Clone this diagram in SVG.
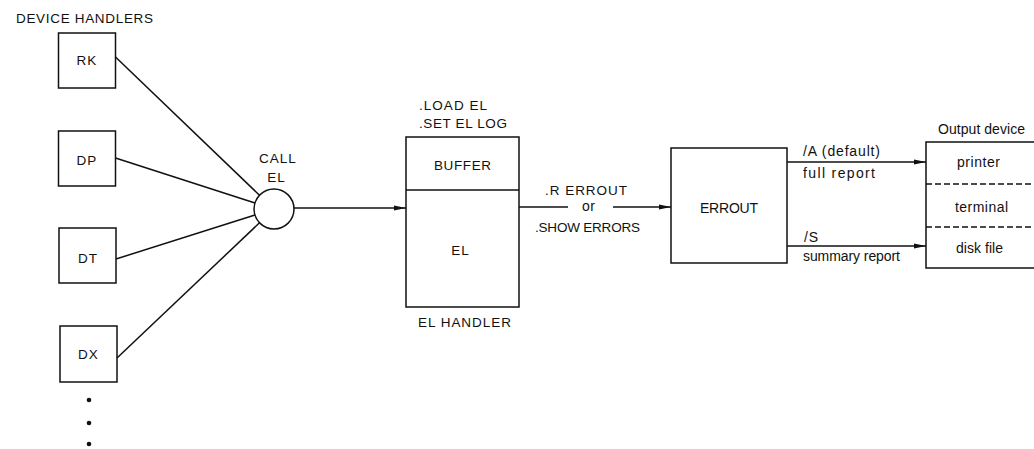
<svg xmlns="http://www.w3.org/2000/svg" width="1034" height="449" viewBox="0 0 1034 449">
<defs>
<style>
.box{fill:#fff;stroke:#111;stroke-width:1.5}
.ln{fill:none;stroke:#111;stroke-width:1.5}
.dash{fill:none;stroke:#111;stroke-width:1.5;stroke-dasharray:6,3}
text{font-family:"Liberation Sans",Arial,sans-serif;fill:#111;font-size:13.5px}
.lc{font-size:14px}
.mid{text-anchor:middle;letter-spacing:1px}
</style>
<marker id="ah" viewBox="0 0 12 6" refX="12" refY="3" markerWidth="12" markerHeight="6" markerUnits="userSpaceOnUse" orient="auto">
<path d="M0,0.6 L12,3 L0,5.4 Z" fill="#111"/>
</marker>
</defs>
<rect width="1034" height="449" fill="#fff"/>
<text x="16" y="23" textLength="137" lengthAdjust="spacing">DEVICE HANDLERS</text>
<g id="RK"><rect class="box" x="58.5" y="33" width="57" height="55"/><text class="mid" x="87" y="65">RK</text></g>
<g id="DP"><rect class="box" x="58.5" y="131" width="57" height="55"/><text class="mid" x="87" y="165">DP</text></g>
<g id="DT"><rect class="box" x="59" y="228" width="57" height="55"/><text class="mid" x="88" y="263">DT</text></g>
<g id="DX"><rect class="box" x="60" y="326" width="57" height="56"/><text class="mid" x="88.5" y="359">DX</text></g>
<g id="dots"><circle cx="89" cy="400" r="2.3" fill="#111"/><circle cx="89" cy="423" r="2.3" fill="#111"/><circle cx="89" cy="444" r="2.3" fill="#111"/></g>
<g id="callEL"><circle class="box" cx="274" cy="209" r="20"/><text class="mid" x="278" y="163">CALL</text><text class="mid" x="276.5" y="182">EL</text></g>
<g id="elhandler">
<text x="419" y="110" textLength="68" lengthAdjust="spacing">.LOAD EL</text>
<text x="419" y="128" textLength="88" lengthAdjust="spacing">.SET EL LOG</text>
<rect class="box" x="406" y="137" width="113" height="170"/>
<line class="ln" x1="406" y1="190" x2="519" y2="190"/>
<text x="434" y="170" textLength="57" lengthAdjust="spacing">BUFFER</text>
<text class="mid" x="460.5" y="255">EL</text>
<text x="418" y="327" textLength="93" lengthAdjust="spacing">EL HANDLER</text>
</g>
<g id="errout"><rect class="box" x="671" y="148" width="116" height="115"/><text x="700" y="213" class="lc" textLength="58" lengthAdjust="spacing">ERROUT</text></g>
<g id="output">
<text x="938" y="134" class="lc" textLength="87" lengthAdjust="spacing">Output device</text>
<rect class="box" x="926" y="142" width="120" height="126"/>
<line class="dash" x1="926" y1="184" x2="1034" y2="184"/>
<line class="dash" x1="926" y1="227" x2="1034" y2="227"/>
<text x="957" y="167" class="lc" textLength="43" lengthAdjust="spacing">printer</text>
<text x="955" y="212" class="lc" textLength="53" lengthAdjust="spacing">terminal</text>
<text x="956" y="253" class="lc" textLength="47" lengthAdjust="spacing">disk file</text>
</g>
<g id="connectors">
<line class="ln" x1="115.5" y1="57" x2="259.5" y2="195.2"/>
<line class="ln" x1="115.5" y1="158" x2="255" y2="203"/>
<line class="ln" x1="116" y1="259" x2="255" y2="215"/>
<line class="ln" x1="117" y1="358" x2="259.5" y2="222.8"/>
<line class="ln" x1="294" y1="208" x2="406" y2="208" marker-end="url(#ah)"/>
<line class="ln" x1="519" y1="207" x2="568" y2="207"/>
<line class="ln" x1="613" y1="207" x2="671" y2="207" marker-end="url(#ah)"/>
<text x="545" y="195" textLength="82" lengthAdjust="spacing">.R ERROUT</text>
<text x="582" y="211" class="lc" textLength="13" lengthAdjust="spacing">or</text>
<text x="535" y="232" textLength="105" lengthAdjust="spacing">.SHOW ERRORS</text>
<line class="ln" x1="787" y1="162" x2="926" y2="162" marker-end="url(#ah)"/>
<line class="ln" x1="787" y1="246" x2="926" y2="246" marker-end="url(#ah)"/>
<text x="803" y="156" class="lc" textLength="77" lengthAdjust="spacing">/A (default)</text>
<text x="803" y="178" class="lc" textLength="72" lengthAdjust="spacing">full report</text>
<text x="804" y="242" class="lc" textLength="14" lengthAdjust="spacing">/S</text>
<text x="803" y="261" class="lc" textLength="97" lengthAdjust="spacing">summary report</text>
</g>
</svg>
